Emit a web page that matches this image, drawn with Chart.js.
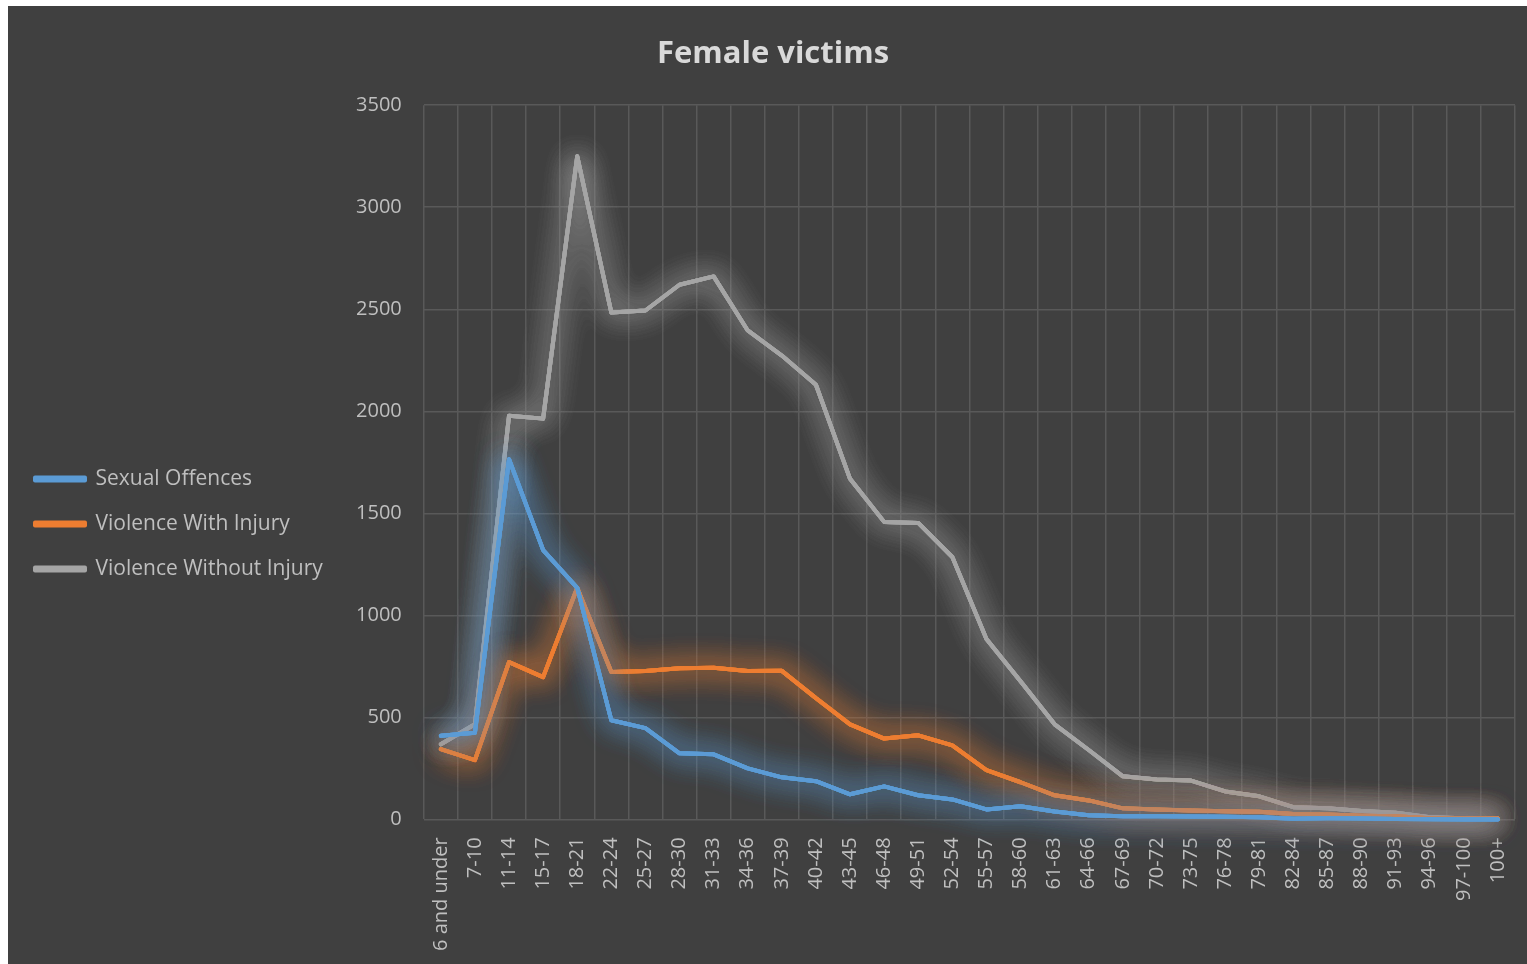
<!DOCTYPE html>
<html>
<head>
<meta charset="utf-8">
<script src="https://cdn.jsdelivr.net/npm/chart.js@4.4.1/dist/chart.umd.min.js"></script>
<style>
  html, body { margin: 0; padding: 0; background: #ffffff; }
  #wrap { position: absolute; left: 8px; top: 6px; width: 1519px; height: 958px; background: #404040; }
</style>
</head>
<body>
<div id="wrap"><canvas id="myChart"></canvas></div>
<script>
const ageGroups = ["6 and under", "7-10", "11-14", "15-17", "18-21", "22-24", "25-27", "28-30",
  "31-33", "34-36", "37-39", "40-42", "43-45", "46-48", "49-51", "52-54", "55-57", "58-60",
  "61-63", "64-66", "67-69", "70-72", "73-75", "76-78", "79-81", "82-84", "85-87", "88-90",
  "91-93", "94-96", "97-100", "100+"];

const sexualOffences = [410, 425, 1765, 1320, 1135, 486, 447, 324, 319, 250, 206, 187, 123, 162,
  118, 98, 49, 64, 39, 20, 15, 15, 14, 13, 10, 3, 5, 4, 2, 1, 0, 0];

const violenceWithInjury = [344, 290, 771, 697, 1135, 722, 727, 741, 743, 727, 728, 594, 466, 396,
  412, 363, 241, 182, 118, 93, 54, 49, 44, 40, 37, 26, 24, 18, 15, 5, 5, 4];

const violenceWithoutInjury = [368, 466, 1978, 1964, 3250, 2484, 2494, 2620, 2661, 2396, 2273, 2130,
  1669, 1458, 1453, 1286, 884, 677, 466, 340, 211, 196, 190, 137, 113, 60, 55, 41, 33, 10, 5, 4];

const yTicks = [0, 500, 1000, 1500, 2000, 2500, 3000, 3500];

const fontFamily = "'Open Sans', 'DejaVu Sans', sans-serif";
const tickColor = "#bfbfbf";
const gridColor = "#595959";

// soft glow under every line: stroke the line a few times with a big shadow first
const glowPlugin = {
  id: "glow",
  beforeDatasetDraw(chart, args) {
    const ctx = chart.ctx;
    const line = args.meta.dataset;
    ctx.save();
    ctx.shadowColor = line.options.borderColor;
    ctx.shadowBlur = 28;
    line.draw(ctx, chart.chartArea);
    line.draw(ctx, chart.chartArea);
    line.draw(ctx, chart.chartArea);
    ctx.restore();
  },
};

// legend sits a bit lower than the middle, title a bit right of it
const nudge = {
  id: "nudge",
  afterLayout(chart) {
    chart.legend.top += 28;
    chart.legend.bottom += 28;
    chart.titleBlock.left += 20;
  },
};

document.addEventListener("DOMContentLoaded", function () {
  const ctx = document.getElementById("myChart");
  window.myChart = new Chart(ctx, {
    type: "line",
    data: {
      labels: ageGroups,
      datasets: [
        { label: "Sexual Offences", data: sexualOffences, borderColor: "#5b9bd5", backgroundColor: "#5b9bd5" },
        { label: "Violence With Injury", data: violenceWithInjury, borderColor: "#ed7d31", backgroundColor: "#ed7d31" },
        { label: "Violence Without Injury", data: violenceWithoutInjury, borderColor: "#a5a5a5", backgroundColor: "#a5a5a5" },
      ],
    },
    options: {
      responsive: true,
      maintainAspectRatio: false,
      animation: false,
      elements: {
        line: { borderWidth: 4, tension: 0, borderJoinStyle: "round", borderCapStyle: "round" },
        point: { radius: 0, hoverRadius: 0 },
      },
      layout: { padding: { top: 24, right: 12, bottom: 2, left: 3 } },
      plugins: {
        title: {
          display: true,
          text: "Female victims",
          color: "#d9d9d9",
          font: { family: fontFamily, size: 31, weight: "bold" },
          padding: { top: 6, bottom: 32 },
        },
        legend: {
          position: "left",
          labels: {
            color: tickColor,
            boxWidth: 50,
            boxHeight: 3,
            padding: 24,
            font: { family: fontFamily, size: 21 },
          },
        },
        tooltip: { enabled: false },
      },
      scales: {
        x: {
          offset: true,
          grid: { offset: true, color: gridColor, lineWidth: 1.5, drawTicks: false },
          border: { display: false },
          afterFit(scale) {
            scale.paddingRight = 0;
            scale.height -= 7;
          },
          ticks: {
            color: tickColor,
            font: { family: fontFamily, size: 20 },
            maxRotation: 90,
            minRotation: 90,
            autoSkip: false,
            padding: 18,
          },
        },
        y: {
          min: 0,
          max: 3500,
          afterBuildTicks(scale) {
            scale.ticks = yTicks.map((v) => ({ value: v }));
          },
          afterFit(scale) {
            scale.width = 91;
          },
          grid: { color: gridColor, lineWidth: 1.5, drawTicks: false },
          border: { display: false },
          ticks: {
            color: tickColor,
            font: { family: fontFamily, size: 20 },
            padding: 22,
            callback: (v) => String(v),
          },
        },
      },
    },
    plugins: [glowPlugin, nudge],
  });
});
</script>
</body>
</html>
